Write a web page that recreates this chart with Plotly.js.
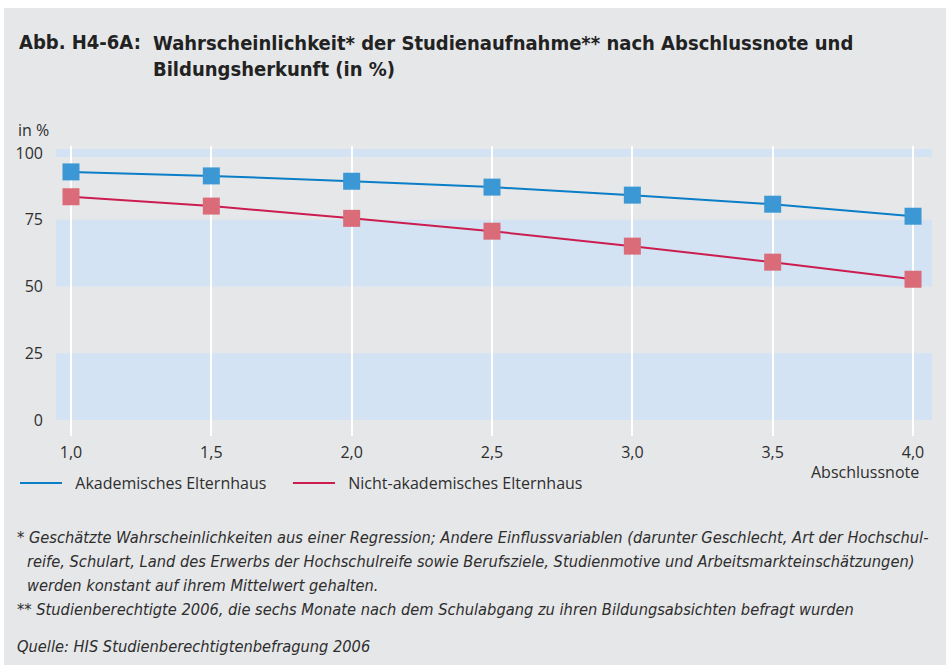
<!DOCTYPE html>
<html>
<head>
<meta charset="utf-8">
<script src="https://cdn.plot.ly/plotly-3.0.1.min.js"></script>
<style>
  html, body { margin: 0; padding: 0; background: #ffffff; width: 946px; height: 665px; overflow: hidden; }
  #chart { position: absolute; left: 4px; top: 8px; width: 942px; height: 657px; }
</style>
</head>
<body>
<div id="chart"></div>
<script>
// ---------- data ----------
const abschlussnote = [1.0, 1.5, 2.0, 2.5, 3.0, 3.5, 4.0];
const akademisch = [92.9, 91.4, 89.4, 87.2, 84.2, 80.8, 76.3];
const nichtAkademisch = [83.6, 80.1, 75.5, 70.7, 65.1, 59.1, 52.7];
const xTickVals = [1.0, 1.5, 2.0, 2.5, 3.0, 3.5, 4.0];
const xTickText = ["1,0", "1,5", "2,0", "2,5", "3,0", "3,5", "4,0"];
const yTickVals = [0, 25, 50, 75, 100];
const yTickText = ["0", "25", "50", "75", "100"];
const bandRanges = [[0, 25], [50, 75], [98.5, 101.5]];
const seriesNames = ["Akademisches Elternhaus", "Nicht-akademisches Elternhaus"];

const titleLabel = "Abb. H4-6A:";
const titleText = "Wahrscheinlichkeit* der Studienaufnahme** nach Abschlussnote und<br>Bildungsherkunft (in %)";
const footnotes = [
  "* Geschätzte Wahrscheinlichkeiten aus einer Regression; Andere Einflussvariablen (darunter Geschlecht, Art der Hochschul-",
  "reife, Schulart, Land des Erwerbs der Hochschulreife sowie Berufsziele, Studienmotive und Arbeitsmarkteinschätzungen)",
  "werden konstant auf ihrem Mittelwert gehalten.",
  "** Studienberechtigte 2006, die sechs Monate nach dem Schulabgang zu ihren Bildungsabsichten befragt wurden",
  "Quelle: HIS Studienberechtigtenbefragung 2006"
];

// ---------- layout helpers (page pixel -> paper) ----------
const OX = 4, OY = 8;
const PL = 55, PR = 932, PT = 146, PB = 436;
const xp = px => (px - PL) / (PR - PL);
const yp = py => (PB - py) / (PB - PT);

const bg = "#e6e7e9";
const band = "#d3e3f3";
const textColor = "#2e2e2e";
const blueLine = "#0a7ec6", blueMarker = "#3b98d5";
const redLine = "#cc1d50", redMarker = "#d96c78";

const tickFont = { family: "Open Sans, Noto Sans, sans-serif", size: 16, color: textColor };
const titleFont = { family: "DejaVu Sans Condensed, sans-serif", size: 20, color: "#222", weight: "bold" };
const noteFont = { family: "DejaVu Sans Condensed, sans-serif", size: 16.3, color: textColor, style: "italic" };

const NB = "\u00a0\u00a0";
const traces = [
  { x: abschlussnote, y: akademisch, type: "scatter", mode: "lines", name: NB + seriesNames[0] + NB + NB,
    line: { color: blueLine, width: 2 }, hoverinfo: "skip" },
  { x: abschlussnote, y: nichtAkademisch, type: "scatter", mode: "lines", name: NB + seriesNames[1],
    line: { color: redLine, width: 2 }, hoverinfo: "skip" },
  { x: abschlussnote, y: akademisch, type: "scatter", mode: "markers", showlegend: false,
    marker: { symbol: "square", size: 17, color: blueMarker, line: { width: 0 } } },
  { x: abschlussnote, y: nichtAkademisch, type: "scatter", mode: "markers", showlegend: false,
    marker: { symbol: "square", size: 17, color: redMarker, line: { width: 0 } } }
];

const shapes = bandRanges.map(r => ({
  type: "rect", layer: "below", xref: "paper", yref: "y",
  x0: 0, x1: 1, y0: r[0], y1: r[1], fillcolor: band, line: { width: 0 }
}));

const annotations = [
  { text: titleLabel, xref: "paper", yref: "paper", x: xp(16), y: yp(42), xanchor: "left", yanchor: "middle",
    showarrow: false, font: titleFont, align: "left" },
  { text: titleText, xref: "paper", yref: "paper", x: xp(150), y: yp(29), xanchor: "left", yanchor: "top",
    showarrow: false, font: titleFont, align: "left" },
  { text: "in %", xref: "paper", yref: "paper", x: xp(15), y: yp(130), xanchor: "left", yanchor: "middle",
    showarrow: false, font: tickFont },
  { text: "Abschlussnote", xref: "paper", yref: "paper", x: xp(921), y: yp(472), xanchor: "right", yanchor: "middle",
    showarrow: false, font: tickFont }
];
const noteX = [14, 24, 24, 14, 14];
const noteY = [537, 561, 585, 609, 646];
footnotes.forEach((t, i) => annotations.push({
  text: t, xref: "paper", yref: "paper", x: xp(noteX[i]), y: yp(noteY[i]), xanchor: "left", yanchor: "middle",
  showarrow: false, font: noteFont
}));

const layout = {
  width: 942, height: 657,
  margin: { l: PL - OX, r: (OX + 942) - PR, t: PT - OY, b: (OY + 657) - PB, pad: 0 },
  paper_bgcolor: bg, plot_bgcolor: bg,
  showlegend: true,
  legend: { orientation: "h", x: xp(15), y: yp(483), xanchor: "left", yanchor: "middle",
            font: tickFont, bgcolor: "rgba(0,0,0,0)", itemwidth: 42, traceorder: "normal" },
  xaxis: { range: [0.9466, 4.0676], tickvals: xTickVals, ticktext: xTickText, showgrid: true,
           gridcolor: "#ffffff", gridwidth: 2, zeroline: false, showline: false, ticks: "",
           tickfont: tickFont, ticklabelstandoff: 5, fixedrange: true },
  yaxis: { range: [-6.0, 102.6], tickvals: yTickVals, ticktext: yTickText, showgrid: false,
           zeroline: false, showline: false, ticks: "", tickfont: tickFont, ticklabelstandoff: 12, fixedrange: true },
  shapes: shapes,
  annotations: annotations
};

Plotly.newPlot("chart", traces, layout, { displayModeBar: false, staticPlot: true });
</script>
</body>
</html>
